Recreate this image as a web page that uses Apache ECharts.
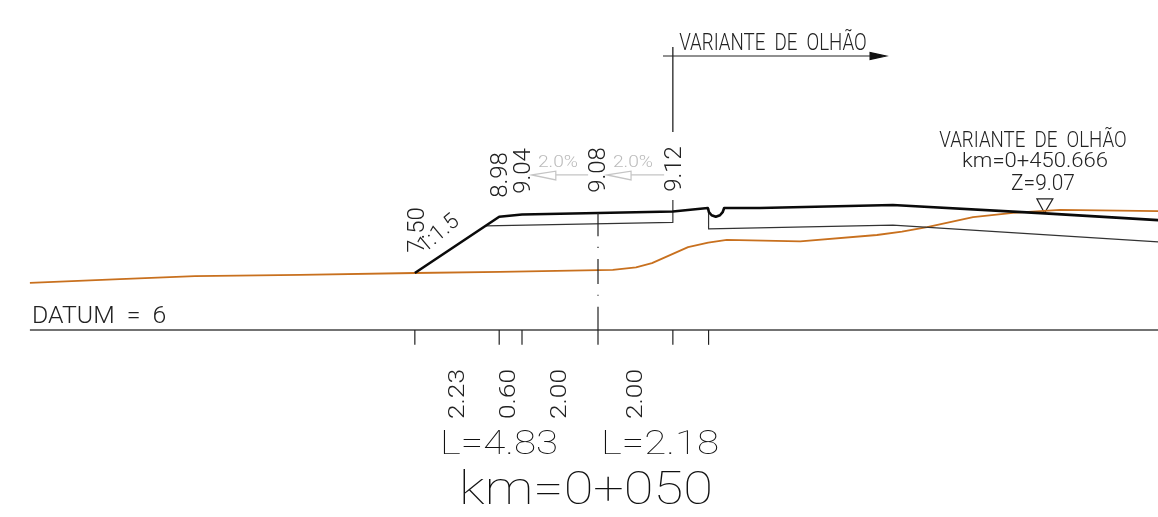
<!DOCTYPE html>
<html>
<head>
<meta charset="utf-8">
<title>Perfil transversal km 0+050</title>
<style>
  html, body { margin: 0; padding: 0; background: #fff; }
  #main { width: 1158px; height: 517px; }
</style>
<script src="https://cdn.jsdelivr.net/npm/echarts@6/dist/echarts.min.js"></script>
</head>
<body>
<div id="main"></div>
<script>
// all profile data in metres: [offset from axis, elevation]
var terrain = [[-14.95, 7.24], [-12.58, 7.34], [-10.61, 7.42], [-7.84, 7.45], [-4.82, 7.50], [-2.58, 7.53], [0.39, 7.58], [1.00, 7.65], [1.42, 7.76], [2.37, 8.18], [2.90, 8.30], [3.39, 8.37], [5.32, 8.33], [7.34, 8.50], [8.00, 8.59], [8.66, 8.71], [9.87, 8.97], [10.92, 9.08], [12.16, 9.16], [14.74, 9.13]];
var roadSurface = [[-4.82, 7.50], [-2.60, 8.98], [-2.00, 9.04], [0, 9.08], [1.97, 9.12], [2.89, 9.21], [2.92, 9.10], [2.99, 9.02], [3.10, 8.98], [3.21, 9.02], [3.28, 9.10], [3.32, 9.21], [4.26, 9.21], [7.76, 9.29], [11.76, 9.07], [14.74, 8.89]];
var subgradeLeft = [[-2.95, 8.74], [1.97, 8.83], [1.97, 9.42]];
var subgradeRight = [[2.91, 9.21], [2.91, 8.66], [7.76, 8.76], [14.74, 8.32]];
var datumLine = [[-14.95, 6], [14.74, 6]];
var datumTicks = [-4.82, -2.60, -2.00, 1.97, 2.91];
var centreLine = [[0, 9.08], [0, 8.47], [0, null], [0, 8.19], [0, 8.16], [0, null], [0, 7.87], [0, 7.21], [0, null], [0, 6.93], [0, 6.90], [0, null], [0, 6.61], [0, 5.61]];
var markerPost = [[1.97, 13.45], [1.97, 11.21]];
var markerArrow = [[1.71, 13.21], [7.16, 13.21]];
var arrowHead = [[7.16, 13.30], [7.16, 13.12], [7.58, 13.21]];
var slopeLineA = [[-1.11, 10.08], [-0.26, 10.08]];
var slopeLineB = [[0.87, 10.08], [1.74, 10.08]];
var slopeHeadA = [[-1.74, 10.08], [-1.11, 10.18], [-1.11, 9.95]];
var slopeHeadB = [[0.24, 10.08], [0.87, 10.18], [0.87, 9.95]];
var levelMark = [[11.55, 9.45], [11.97, 9.45], [11.75, 9.08]];

// texts
var elevationLabels = ['7.50', '8.98', '9.04', '9.08', '9.12'];
var slopeLabels = ['2.0%', '2.0%'];
var widthLabels = ['2.23', '0.60', '2.00', '2.00'];
var lengthLabels = ['L=4.83', 'L=2.18'];
var stationLabel = 'km=0+050';
var embankmentLabel = '1:1.5';
var datumLabel = 'DATUM  =  6';
var variantLabels = ['VARIANTE  DE  OLHÃO', 'km=0+450.666', 'Z=9.07'];

var FONT = 'Roboto, "Liberation Sans", sans-serif';
var INK = '#222';

function polyline(data, color, width) {
  return {
    type: 'line',
    data: data,
    symbol: 'none',
    silent: true,
    clip: false,
    animation: false,
    connectNulls: false,
    lineStyle: { color: color, width: width, cap: 'butt', join: 'round' }
  };
}

// triangle through the axes, filled or just outlined
function triangle(points, fill, stroke) {
  return {
    type: 'custom',
    silent: true,
    animation: false,
    data: [0],
    renderItem: function (params, api) {
      return {
        type: 'polygon',
        shape: { points: points.map(function (p) { return api.coord(p); }) },
        style: { fill: fill, stroke: stroke, lineWidth: 1.2 }
      };
    }
  };
}

function text(str, x, y, size, opts) {
  opts = opts || {};
  return {
    type: 'text',
    x: x,
    y: y,
    rotation: (opts.rotate || 0) * Math.PI / 180,
    scaleX: opts.stretch || 1,
    silent: true,
    style: {
      text: str,
      fontFamily: FONT,
      fontWeight: opts.weight || 300,
      fontSize: size,
      fill: opts.color || INK,
      align: opts.align || 'center',
      verticalAlign: 'middle'
    }
  };
}

var series = [
  polyline(datumLine, '#444', 1.3),
  polyline(terrain, '#c8701e', 1.8),
  polyline(subgradeLeft, '#333', 1.2),
  polyline(subgradeRight, '#333', 1.2),
  polyline(roadSurface, '#0a0a0a', 2.6),
  polyline(centreLine, '#222', 1.2),
  polyline(markerPost, '#111', 1.2),
  polyline(markerArrow, '#222', 1.2),
  polyline(slopeLineA, '#c4c4c4', 1.2),
  polyline(slopeLineB, '#c4c4c4', 1.2),
  triangle(arrowHead, '#111', '#111'),
  triangle(slopeHeadA, 'none', '#c4c4c4'),
  triangle(slopeHeadB, 'none', '#c4c4c4'),
  triangle(levelMark, 'none', '#222')
];
datumTicks.forEach(function (x) {
  series.push(polyline([[x, 6], [x, 5.61]], '#222', 1.2));
});

var texts = [
  text(variantLabels[0], 773, 44, 24, { stretch: 0.78 }),
  text(elevationLabels[0], 418, 230, 24, { rotate: 90 }),
  text(embankmentLabel, 439, 234, 22, { rotate: 40 }),
  text(elevationLabels[1], 501, 175, 24, { rotate: 90 }),
  text(elevationLabels[2], 524, 171, 24, { rotate: 90 }),
  text(elevationLabels[3], 599, 170, 24, { rotate: 90 }),
  text(elevationLabels[4], 675, 169, 24, { rotate: 90 }),
  text(slopeLabels[0], 558, 163, 16, { color: '#bbb', stretch: 1.2 }),
  text(slopeLabels[1], 633, 163, 16, { color: '#bbb', stretch: 1.2 }),
  text(variantLabels[0], 1033, 141, 22, { stretch: 0.85 }),
  text(variantLabels[1], 1035, 162, 21, { stretch: 1.05 }),
  text(variantLabels[2], 1043, 184, 22, { stretch: 0.95 }),
  text(datumLabel, 32, 317, 23, { align: 'left', stretch: 1.08 }),
  text(widthLabels[0], 458, 394, 22, { rotate: 90, stretch: 1.2 }),
  text(widthLabels[1], 509, 394, 22, { rotate: 90, stretch: 1.2 }),
  text(widthLabels[2], 560, 394, 22, { rotate: 90, stretch: 1.2 }),
  text(widthLabels[3], 636, 394, 22, { rotate: 90, stretch: 1.2 }),
  text(lengthLabels[0], 499, 446, 33, { stretch: 1.22, weight: 100, color: '#111' }),
  text(lengthLabels[1], 660, 446, 33, { stretch: 1.22, weight: 100, color: '#111' }),
  text(stationLabel, 586, 492, 46, { stretch: 1.18, weight: 100, color: '#111' })
];

var chart = echarts.init(document.getElementById('main'), null, { renderer: 'canvas' });
chart.setOption({
  backgroundColor: '#fff',
  animation: false,
  grid: { left: 0, right: 0, top: 0, bottom: 0 },
  xAxis: { type: 'value', min: -15.737, max: 14.737, show: false },
  yAxis: { type: 'value', min: 1.079, max: 14.684, show: false },
  series: series,
  graphic: { elements: texts }
});
</script>
</body>
</html>
